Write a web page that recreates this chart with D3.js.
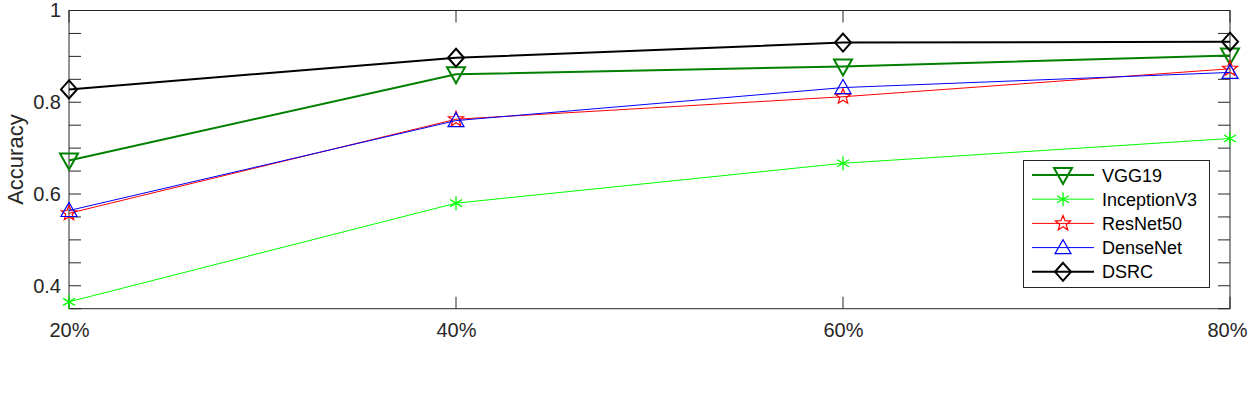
<!DOCTYPE html>
<html><head><meta charset="utf-8">
<script src="https://cdn.jsdelivr.net/npm/d3@7"></script>
<style>body{margin:0;background:#fff}svg{font-family:"Liberation Sans",Arial,sans-serif}</style>
</head><body>
<svg id="c" width="1248" height="393"></svg>
<script>
const categories = ["20%", "40%", "60%", "80%"];
const seriesNames = ["VGG19", "InceptionV3", "ResNet50", "DenseNet", "DSRC"];
const vgg19 = [0.673, 0.861, 0.878, 0.902];
const inceptionV3 = [0.365, 0.580, 0.667, 0.721];
const resNet50 = [0.558, 0.763, 0.812, 0.873];
const denseNet = [0.564, 0.760, 0.832, 0.865];
const dsrc = [0.828, 0.897, 0.930, 0.932];
const yTicks = [0.4, 0.6, 0.8, 1];
const yMinorTicks = d3.range(0.35, 1.0001, 0.05);

const series = [
  {name: seriesNames[0], values: vgg19, color: "#008000", width: 2, marker: "tdown"},
  {name: seriesNames[1], values: inceptionV3, color: "#00ff00", width: 1, marker: "aster"},
  {name: seriesNames[2], values: resNet50, color: "#ff0000", width: 1, marker: "star"},
  {name: seriesNames[3], values: denseNet, color: "#0000ff", width: 1, marker: "tup"},
  {name: seriesNames[4], values: dsrc, color: "#000000", width: 2, marker: "diamond"}
];

const svg = d3.select("#c");
const L = 69, R = 1230, T = 10.5, B = 308.7;
const x = d3.scalePoint().domain(categories).range([L, R]);
const y = d3.scaleLinear().domain([0.35, 1]).range([B, T]);

svg.append("rect").attr("x", L).attr("y", T).attr("width", R - L).attr("height", B - T)
  .attr("fill", "none").attr("stroke", "#262626").attr("stroke-width", 1);

const g = svg.append("g");
yMinorTicks.forEach(v => {
  const yy = y(v);
  g.append("line").attr("x1", L).attr("x2", L + 12).attr("y1", yy).attr("y2", yy).attr("stroke", "#262626");
  g.append("line").attr("x1", R).attr("x2", R - 12).attr("y1", yy).attr("y2", yy).attr("stroke", "#262626");
});
categories.forEach(c => {
  const xx = x(c);
  g.append("line").attr("x1", xx).attr("x2", xx).attr("y1", B).attr("y2", B - 12).attr("stroke", "#262626");
  g.append("line").attr("x1", xx).attr("x2", xx).attr("y1", T).attr("y2", T + 12).attr("stroke", "#262626");
});

const yAxis = d3.axisLeft(y).tickValues(yTicks).tickFormat(d => d === 1 ? "1" : d3.format(".1f")(d)).tickSize(0).tickPadding(8);
svg.append("g").attr("transform", `translate(${L},0)`).call(yAxis)
  .call(s => s.select(".domain").remove())
  .selectAll("text").attr("font-size", 20).attr("fill", "#262626").attr("font-family", "Liberation Sans, Arial, sans-serif");

const xAxis = d3.axisBottom(x).tickSize(0).tickPadding(14);
const xg = svg.append("g").attr("transform", `translate(0,${B})`).call(xAxis)
  .call(s => s.select(".domain").remove());
xg.selectAll("text").attr("font-size", 20).attr("fill", "#262626").attr("font-family", "Liberation Sans, Arial, sans-serif");
xg.selectAll("text").filter((d, i, n) => i === n.length - 1).attr("text-anchor", "end").attr("x", 1247 - R);

svg.append("text").attr("transform", `translate(23,${(T + B) / 2}) rotate(-90)`)
  .attr("text-anchor", "middle").attr("font-size", 22).attr("fill", "#262626").text("Accuracy");

function drawMarker(sel, type, color, cx, cy) {
  const gg = sel.append("g").attr("transform", `translate(${cx},${cy})`).attr("fill", "none").attr("stroke", color);
  if (type === "tdown") {
    gg.append("path").attr("d", "M-9,-7 L9,-7 L0,9 Z").attr("stroke-width", 2);
  } else if (type === "tup") {
    gg.append("path").attr("d", "M-8,6 L8,6 L0,-8 Z").attr("stroke-width", 1.2);
  } else if (type === "diamond") {
    gg.append("path").attr("d", "M0,-9 L8,0 L0,9 L-8,0 Z").attr("stroke-width", 2);
  } else if (type === "aster") {
    gg.append("path").attr("d", "M0,-7 L0,7 M-6,-3.5 L6,3.5 M-6,3.5 L6,-3.5").attr("stroke-width", 1.3);
  } else if (type === "star") {
    const pts = [];
    for (let i = 0; i < 10; i++) {
      const r = i % 2 === 0 ? 8 : 3.4;
      const a = -Math.PI / 2 + i * Math.PI / 5;
      pts.push([r * Math.cos(a), r * Math.sin(a)]);
    }
    gg.append("path").attr("d", "M" + pts.map(p => p.join(",")).join("L") + "Z").attr("stroke-width", 1.2);
  }
}

const line = d3.line().x((d, i) => x(categories[i])).y(d => y(d));
series.forEach(s => {
  svg.append("path").attr("d", line(s.values)).attr("fill", "none").attr("stroke", s.color).attr("stroke-width", s.width);
  s.values.forEach((v, i) => drawMarker(svg, s.marker, s.color, x(categories[i]), y(v)));
});

const lg = svg.append("g");
lg.append("rect").attr("x", 1023.5).attr("y", 160.5).attr("width", 186).attr("height", 127)
  .attr("fill", "#fff").attr("stroke", "#262626").attr("stroke-width", 1);
series.forEach((s, i) => {
  const yy = 175 + i * 24.2;
  lg.append("line").attr("x1", 1032).attr("x2", 1094).attr("y1", yy).attr("y2", yy).attr("stroke", s.color).attr("stroke-width", s.width);
  drawMarker(lg, s.marker, s.color, 1063, yy);
  lg.append("text").attr("x", 1102).attr("y", yy + 6.5).attr("font-size", 18).attr("fill", "#000").text(s.name);
});
</script>
</body></html>
